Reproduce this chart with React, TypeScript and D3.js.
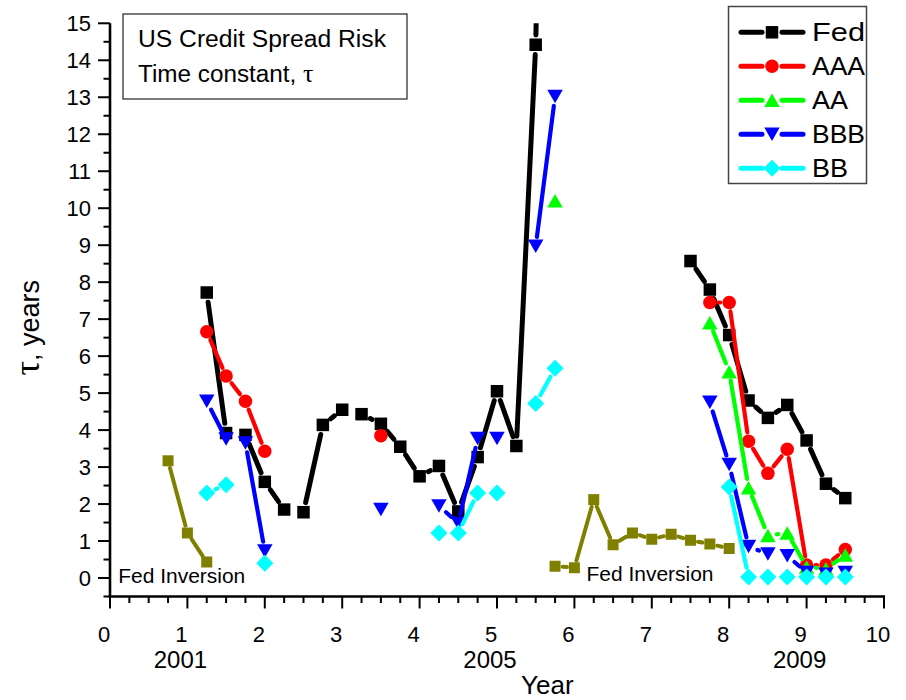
import React from 'react';
import * as d3 from 'd3';

// ---------------- data ----------------
const fedX = [1.25, 1.5, 1.75, 2, 2.25, 2.5, 2.75, 3, 3.25, 3.5, 3.75, 4, 4.25, 4.5, 4.75, 5, 5.25, 5.5, 5.75, 6, 7.5, 7.75, 8, 8.25, 8.5, 8.75, 9, 9.25, 9.5];
const fedY: (number | null)[] = [7.72, 3.92, 3.87, 2.6, 1.85, 1.78, 4.14, 4.55, 4.43, 4.17, 3.55, 2.75, 3.03, 1.8, 3.27, 5.05, 3.57, 14.42, 40, null, 8.57, 7.8, 6.57, 4.8, 4.33, 4.68, 3.72, 2.55, 2.16];

const aaaX = [1.25, 1.5, 1.75, 2, 2.25, 3.5, 3.75, 7.75, 8, 8.25, 8.5, 8.75, 9, 9.25, 9.5];
const aaaY: (number | null)[] = [6.66, 5.46, 4.78, 3.43, null, 3.85, null, 7.45, 7.45, 3.7, 2.83, 3.48, 0.35, 0.35, 0.77];

const aaX = [5.75, 6, 7.75, 8, 8.25, 8.5, 8.75, 9, 9.25, 9.5];
const aaY: (number | null)[] = [10.2, null, 6.9, 5.58, 2.44, 1.15, 1.22, 0.3, 0.25, 0.62];

const bbbX = [1.25, 1.5, 1.75, 2, 2.25, 3.5, 3.75, 4.25, 4.5, 4.75, 5, 5.25, 5.5, 5.75, 6, 7.75, 8, 8.25, 8.5, 8.75, 9, 9.25, 9.5];
const bbbY: (number | null)[] = [4.78, 3.76, 3.65, 0.73, null, 1.85, null, 1.95, 1.48, 3.77, 3.77, null, 8.97, 13.02, null, 4.75, 3.07, 0.85, 0.65, 0.6, 0.15, 0.1, 0.15];

const bbX = [1.25, 1.5, 1.75, 2, 2.25, 4.25, 4.5, 4.75, 5, 5.25, 5.5, 5.75, 6, 8, 8.25, 8.5, 8.75, 9, 9.25, 9.5];
const bbY: (number | null)[] = [2.3, 2.52, null, 0.4, null, 1.22, 1.22, 2.3, 2.3, null, 4.72, 5.67, null, 2.46, 0.03, 0.03, 0.03, 0.03, 0.03, 0.03];

const invX = [0.75, 1, 1.25, 1.5, 5.75, 6, 6.25, 6.5, 6.75, 7, 7.25, 7.5, 7.75, 8];
const invY: (number | null)[] = [3.17, 1.22, 0.43, null, 0.32, 0.28, 2.12, 0.9, 1.22, 1.05, 1.18, 1.02, 0.92, 0.8];

const seriesNames = ['Fed', 'AAA', 'AA', 'BBB', 'BB'];
const xTickValues = [0, 1, 2, 3, 4, 5, 6, 7, 8, 9, 10];
const yTickValues = [0, 1, 2, 3, 4, 5, 6, 7, 8, 9, 10, 11, 12, 13, 14, 15];
const yearLabels = ['2001', '2005', '2009'];
const yearLabelAt = [1, 5, 9];
const invLabel = 'Fed Inversion';
const invLabelAt: [number, number][] = [[0.1, -0.13], [6.15, -0.08]];
const titleLines = ['US Credit Spread Risk', 'Time constant, '];

// ---------------- layout ----------------
const W = 906, H = 700;
const x = d3.scaleLinear().domain([0, 10]).range([110, 884]);
const y = d3.scaleLinear().domain([-0.5, 15]).range([596.5, 23.3]);
const FONT = 'Liberation Sans, Arial, Helvetica, sans-serif';

type Marker = 'square' | 'circle' | 'up' | 'down' | 'diamond';
interface Series { xs: number[]; ys: (number | null)[]; color: string; marker: Marker; size: number; gap: number; lw: number; }

const series: Series[] = [
  { xs: invX, ys: invY, color: '#808000', marker: 'square', size: 11, gap: 7.5, lw: 4 },
  { xs: fedX, ys: fedY, color: '#000000', marker: 'square', size: 12.5, gap: 9.8, lw: 5 },
  { xs: aaaX, ys: aaaY, color: '#FF0000', marker: 'circle', size: 13.5, gap: 9, lw: 4.2 },
  { xs: aaX, ys: aaY, color: '#00FF00', marker: 'up', size: 15.5, gap: 9, lw: 4.2 },
  { xs: bbbX, ys: bbbY, color: '#0000FF', marker: 'down', size: 15.5, gap: 9.5, lw: 4.2 },
  { xs: bbX, ys: bbY, color: '#00FFFF', marker: 'diamond', size: 17, gap: 9.5, lw: 4.2 },
];

function markerPath(m: Marker, s: number): string {
  const h = s / 2;
  switch (m) {
    case 'square': return `M${-h},${-h}H${h}V${h}H${-h}Z`;
    case 'circle': return d3.symbol(d3.symbolCircle, Math.PI * h * h)() as string;
    case 'up': { const th = s * 0.87; return `M0,${-th / 2}L${h},${th / 2}L${-h},${th / 2}Z`; }
    case 'down': { const th = s * 0.87; return `M0,${th / 2}L${h},${-th / 2}L${-h},${-th / 2}Z`; }
    case 'diamond': return `M0,${-h}L${h},0L0,${h}L${-h},0Z`;
  }
}

const line = d3.line<[number, number]>();

function segments(s: Series): string[] {
  const out: string[] = [];
  for (let i = 0; i < s.xs.length - 1; i++) {
    const a = s.ys[i], b = s.ys[i + 1];
    if (a == null || b == null) continue;
    const x1 = x(s.xs[i]), y1 = y(a), x2 = x(s.xs[i + 1]), y2 = y(b);
    const dx = x2 - x1, dy = y2 - y1, L = Math.hypot(dx, dy);
    if (L - 2 * s.gap < 1) continue;
    const ux = dx / L, uy = dy / L;
    out.push(line([[x1 + ux * s.gap, y1 + uy * s.gap], [x2 - ux * s.gap, y2 - uy * s.gap]]) as string);
  }
  return out;
}

export default function App() {
  const xMinor = d3.range(0, 10.001, 0.25).filter(v => Math.abs(v - Math.round(v)) > 1e-6);
  const yMinor = d3.range(-0.5, 15.001, 0.5).filter(v => Math.abs(v - Math.round(v)) > 1e-6);
  const x0 = x.range()[0], x1 = x.range()[1];
  const yb = y.range()[0], yt = y.range()[1];
  const legendSeries = series.slice(1);
  return (
    <svg width={W} height={H} style={{ position: 'absolute', left: 0, top: 0, background: '#fff' }} fontFamily={FONT}>
      <defs>
        <clipPath id="plot"><rect x={x0} y={yt} width={x1 - x0 + 10} height={yb - yt} /></clipPath>
      </defs>
      <rect width={W} height={H} fill="#fff" />

      {/* series */}
      <g clipPath="url(#plot)">
        {series.map((s, si) => (
          <g key={si}>
            {segments(s).map((d, i) => (
              <path key={i} d={d} stroke={s.color} strokeWidth={s.lw} strokeLinecap="round" fill="none" />
            ))}
            {s.xs.map((xv, i) => s.ys[i] == null ? null : (
              <path key={'m' + i} d={markerPath(s.marker, s.size)} transform={`translate(${x(xv)},${y(s.ys[i] as number)})`} fill={s.color} />
            ))}
          </g>
        ))}
      </g>

      {/* axes */}
      <g stroke="#000" strokeWidth={2}>
        {xTickValues.map(t => <line key={'xt' + t} x1={x(t)} x2={x(t)} y1={yb} y2={yb + 12} />)}
        {xMinor.map(t => <line key={'xm' + t} x1={x(t)} x2={x(t)} y1={yb} y2={yb + 6.5} />)}
        {yTickValues.map(t => <line key={'yt' + t} x1={x0} x2={x0 - 12} y1={y(t)} y2={y(t)} />)}
        {yMinor.map(t => <line key={'ym' + t} x1={x0} x2={x0 - 6.5} y1={y(t)} y2={y(t)} />)}
      </g>
      <line x1={x0 - 1.2} x2={x1 + 1} y1={yb} y2={yb} stroke="#000" strokeWidth={2.6} />
      <line x1={x0} x2={x0} y1={yb + 1.2} y2={yt} stroke="#000" strokeWidth={2.6} />

      {/* tick labels */}
      <g fontSize={22} fill="#000">
        {xTickValues.map(t => <text key={'xl' + t} x={x(t) - 6} y={642} textAnchor="middle">{t}</text>)}
        {yTickValues.map(t => <text key={'yl' + t} x={91} y={y(t)} dy="0.36em" textAnchor="end">{t}</text>)}
      </g>
      <g fontSize={24} fill="#000">
        {yearLabels.map((l, i) => <text key={l} x={x(yearLabelAt[i]) - 7} y={668} textAnchor="middle">{l}</text>)}
      </g>
      <text x={521} y={694} fontSize={26}>Year</text>
      <text transform="translate(39,280) rotate(-90)" textAnchor="end" fontSize={27}>
        <tspan fontFamily="Liberation Serif, Times New Roman, serif" fontSize={36}>τ</tspan>
        <tspan>, years</tspan>
      </text>

      {/* Fed inversion labels */}
      {invLabelAt.map(([lx, ly], i) => (
        <text key={'inv' + i} x={x(lx) + 0.5} y={y(ly)} fontSize={20} textLength={127} lengthAdjust="spacingAndGlyphs">{invLabel}</text>
      ))}

      {/* title box */}
      <rect x={123} y={14} width={284} height={85} fill="#fff" stroke="#333" strokeWidth={1.3} />
      <text x={138} y={47} fontSize={23} textLength={248} lengthAdjust="spacingAndGlyphs">{titleLines[0]}</text>
      <text x={138} y={82} fontSize={23}>
        <tspan textLength={165} lengthAdjust="spacingAndGlyphs">{titleLines[1]}</tspan>
        <tspan fontFamily="Liberation Serif, Times New Roman, serif" fontSize={26}>τ</tspan>
      </text>

      {/* legend */}
      <rect x={728.5} y={6.5} width={138} height={177} fill="#fff" stroke="#444" strokeWidth={1.5} />
      {legendSeries.map((s, i) => {
        const ly = 32.3 + i * 34;
        return (
          <g key={'lg' + i}>
            <line x1={741} x2={762} y1={ly} y2={ly} stroke={s.color} strokeWidth={5} strokeLinecap="round" />
            <line x1={782} x2={803} y1={ly} y2={ly} stroke={s.color} strokeWidth={5} strokeLinecap="round" />
            <path d={markerPath(s.marker, s.size)} transform={`translate(772,${ly})`} fill={s.color} />
            <text x={812} y={ly + 8.8} fontSize={25} textLength={seriesNames[i].length > 2 ? 53 : seriesNames[i] === 'Fed' ? 45 : 36} lengthAdjust="spacingAndGlyphs">{seriesNames[i]}</text>
          </g>
        );
      })}
    </svg>
  );
}
